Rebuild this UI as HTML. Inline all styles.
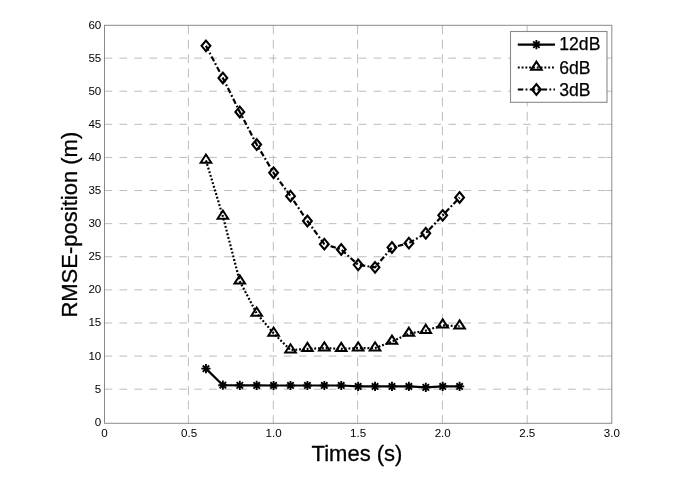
<!DOCTYPE html>
<html><head><meta charset="utf-8"><title>RMSE-position vs Times</title>
<style>
html,body{margin:0;padding:0;background:#fff;}
body{width:685px;height:497px;overflow:hidden;font-family:"Liberation Sans",sans-serif;}
svg{display:block;font-family:"Liberation Sans",sans-serif;}
</style></head><body>
<svg width="685" height="497" viewBox="0 0 685 497">
<rect width="685" height="497" fill="#fff"/>
<g stroke="#b0b0b0" stroke-width="0.85" fill="none">
<line x1="104.5" y1="389.19" x2="611.8" y2="389.19" stroke-dasharray="7.7 7.25"/>
<line x1="606.3" y1="389.19" x2="611.8" y2="389.19"/>
<line x1="104.5" y1="356.08" x2="611.8" y2="356.08" stroke-dasharray="7.7 7.25"/>
<line x1="606.3" y1="356.08" x2="611.8" y2="356.08"/>
<line x1="104.5" y1="322.97" x2="611.8" y2="322.97" stroke-dasharray="7.7 7.25"/>
<line x1="606.3" y1="322.97" x2="611.8" y2="322.97"/>
<line x1="104.5" y1="289.87" x2="611.8" y2="289.87" stroke-dasharray="7.7 7.25"/>
<line x1="606.3" y1="289.87" x2="611.8" y2="289.87"/>
<line x1="104.5" y1="256.76" x2="611.8" y2="256.76" stroke-dasharray="7.7 7.25"/>
<line x1="606.3" y1="256.76" x2="611.8" y2="256.76"/>
<line x1="104.5" y1="223.65" x2="611.8" y2="223.65" stroke-dasharray="7.7 7.25"/>
<line x1="606.3" y1="223.65" x2="611.8" y2="223.65"/>
<line x1="104.5" y1="190.54" x2="611.8" y2="190.54" stroke-dasharray="7.7 7.25"/>
<line x1="606.3" y1="190.54" x2="611.8" y2="190.54"/>
<line x1="104.5" y1="157.43" x2="611.8" y2="157.43" stroke-dasharray="7.7 7.25"/>
<line x1="606.3" y1="157.43" x2="611.8" y2="157.43"/>
<line x1="104.5" y1="124.32" x2="611.8" y2="124.32" stroke-dasharray="7.7 7.25"/>
<line x1="606.3" y1="124.32" x2="611.8" y2="124.32"/>
<line x1="104.5" y1="91.22" x2="611.8" y2="91.22" stroke-dasharray="7.7 7.25"/>
<line x1="606.3" y1="91.22" x2="611.8" y2="91.22"/>
<line x1="104.5" y1="58.11" x2="611.8" y2="58.11" stroke-dasharray="7.7 7.25"/>
<line x1="606.3" y1="58.11" x2="611.8" y2="58.11"/>
<line x1="188.40" y1="25.3" x2="188.40" y2="423.3" stroke-dasharray="8.8 5.637"/>
<line x1="273.30" y1="25.3" x2="273.30" y2="423.3" stroke-dasharray="8.8 5.637"/>
<line x1="357.60" y1="25.3" x2="357.60" y2="423.3" stroke-dasharray="8.8 5.637"/>
<line x1="442.40" y1="25.3" x2="442.40" y2="423.3" stroke-dasharray="8.8 5.637"/>
<line x1="527.20" y1="25.3" x2="527.20" y2="423.3" stroke-dasharray="8.8 5.637"/>
</g>
<rect x="104.5" y="25.3" width="507.30" height="398.00" fill="none" stroke="#8a8a8a" stroke-width="1"/>
<polyline points="205.96,368.66 222.87,385.22 239.78,385.35 256.69,385.42 273.60,385.48 290.51,385.48 307.42,385.48 324.33,385.48 341.24,385.48 358.15,386.41 375.06,386.41 391.97,386.41 408.88,386.41 425.79,387.40 442.70,386.41 459.61,386.41" fill="none" stroke="#000" stroke-width="2.2"/>
<path transform="translate(205.96,368.66)" d="M-4.6 0H4.6M0 -4.6V4.6M-3.2 -3.2L3.2 3.2M-3.2 3.2L3.2 -3.2" stroke="#000" stroke-width="1.9" fill="none"/>
<path transform="translate(222.87,385.22)" d="M-4.6 0H4.6M0 -4.6V4.6M-3.2 -3.2L3.2 3.2M-3.2 3.2L3.2 -3.2" stroke="#000" stroke-width="1.9" fill="none"/>
<path transform="translate(239.78,385.35)" d="M-4.6 0H4.6M0 -4.6V4.6M-3.2 -3.2L3.2 3.2M-3.2 3.2L3.2 -3.2" stroke="#000" stroke-width="1.9" fill="none"/>
<path transform="translate(256.69,385.42)" d="M-4.6 0H4.6M0 -4.6V4.6M-3.2 -3.2L3.2 3.2M-3.2 3.2L3.2 -3.2" stroke="#000" stroke-width="1.9" fill="none"/>
<path transform="translate(273.60,385.48)" d="M-4.6 0H4.6M0 -4.6V4.6M-3.2 -3.2L3.2 3.2M-3.2 3.2L3.2 -3.2" stroke="#000" stroke-width="1.9" fill="none"/>
<path transform="translate(290.51,385.48)" d="M-4.6 0H4.6M0 -4.6V4.6M-3.2 -3.2L3.2 3.2M-3.2 3.2L3.2 -3.2" stroke="#000" stroke-width="1.9" fill="none"/>
<path transform="translate(307.42,385.48)" d="M-4.6 0H4.6M0 -4.6V4.6M-3.2 -3.2L3.2 3.2M-3.2 3.2L3.2 -3.2" stroke="#000" stroke-width="1.9" fill="none"/>
<path transform="translate(324.33,385.48)" d="M-4.6 0H4.6M0 -4.6V4.6M-3.2 -3.2L3.2 3.2M-3.2 3.2L3.2 -3.2" stroke="#000" stroke-width="1.9" fill="none"/>
<path transform="translate(341.24,385.48)" d="M-4.6 0H4.6M0 -4.6V4.6M-3.2 -3.2L3.2 3.2M-3.2 3.2L3.2 -3.2" stroke="#000" stroke-width="1.9" fill="none"/>
<path transform="translate(358.15,386.41)" d="M-4.6 0H4.6M0 -4.6V4.6M-3.2 -3.2L3.2 3.2M-3.2 3.2L3.2 -3.2" stroke="#000" stroke-width="1.9" fill="none"/>
<path transform="translate(375.06,386.41)" d="M-4.6 0H4.6M0 -4.6V4.6M-3.2 -3.2L3.2 3.2M-3.2 3.2L3.2 -3.2" stroke="#000" stroke-width="1.9" fill="none"/>
<path transform="translate(391.97,386.41)" d="M-4.6 0H4.6M0 -4.6V4.6M-3.2 -3.2L3.2 3.2M-3.2 3.2L3.2 -3.2" stroke="#000" stroke-width="1.9" fill="none"/>
<path transform="translate(408.88,386.41)" d="M-4.6 0H4.6M0 -4.6V4.6M-3.2 -3.2L3.2 3.2M-3.2 3.2L3.2 -3.2" stroke="#000" stroke-width="1.9" fill="none"/>
<path transform="translate(425.79,387.40)" d="M-4.6 0H4.6M0 -4.6V4.6M-3.2 -3.2L3.2 3.2M-3.2 3.2L3.2 -3.2" stroke="#000" stroke-width="1.9" fill="none"/>
<path transform="translate(442.70,386.41)" d="M-4.6 0H4.6M0 -4.6V4.6M-3.2 -3.2L3.2 3.2M-3.2 3.2L3.2 -3.2" stroke="#000" stroke-width="1.9" fill="none"/>
<path transform="translate(459.61,386.41)" d="M-4.6 0H4.6M0 -4.6V4.6M-3.2 -3.2L3.2 3.2M-3.2 3.2L3.2 -3.2" stroke="#000" stroke-width="1.9" fill="none"/>
<polyline points="205.96,160.41 222.87,216.37 239.78,281.26 256.69,313.37 273.60,333.37 290.51,350.12 307.42,348.80 324.33,348.14 341.24,348.80 358.15,348.14 375.06,348.14 391.97,341.52 408.88,333.57 425.79,330.59 442.70,325.29 459.61,326.29" fill="none" stroke="#000" stroke-width="2.2" stroke-dasharray="1.9 1.9"/>
<path transform="translate(205.96,160.41)" d="M0 -5.9L5.3 2.3H-5.3Z" stroke="#000" stroke-width="2" fill="none" stroke-linejoin="miter"/>
<path transform="translate(222.87,216.37)" d="M0 -5.9L5.3 2.3H-5.3Z" stroke="#000" stroke-width="2" fill="none" stroke-linejoin="miter"/>
<path transform="translate(239.78,281.26)" d="M0 -5.9L5.3 2.3H-5.3Z" stroke="#000" stroke-width="2" fill="none" stroke-linejoin="miter"/>
<path transform="translate(256.69,313.37)" d="M0 -5.9L5.3 2.3H-5.3Z" stroke="#000" stroke-width="2" fill="none" stroke-linejoin="miter"/>
<path transform="translate(273.60,333.37)" d="M0 -5.9L5.3 2.3H-5.3Z" stroke="#000" stroke-width="2" fill="none" stroke-linejoin="miter"/>
<path transform="translate(290.51,350.12)" d="M0 -5.9L5.3 2.3H-5.3Z" stroke="#000" stroke-width="2" fill="none" stroke-linejoin="miter"/>
<path transform="translate(307.42,348.80)" d="M0 -5.9L5.3 2.3H-5.3Z" stroke="#000" stroke-width="2" fill="none" stroke-linejoin="miter"/>
<path transform="translate(324.33,348.14)" d="M0 -5.9L5.3 2.3H-5.3Z" stroke="#000" stroke-width="2" fill="none" stroke-linejoin="miter"/>
<path transform="translate(341.24,348.80)" d="M0 -5.9L5.3 2.3H-5.3Z" stroke="#000" stroke-width="2" fill="none" stroke-linejoin="miter"/>
<path transform="translate(358.15,348.14)" d="M0 -5.9L5.3 2.3H-5.3Z" stroke="#000" stroke-width="2" fill="none" stroke-linejoin="miter"/>
<path transform="translate(375.06,348.14)" d="M0 -5.9L5.3 2.3H-5.3Z" stroke="#000" stroke-width="2" fill="none" stroke-linejoin="miter"/>
<path transform="translate(391.97,341.52)" d="M0 -5.9L5.3 2.3H-5.3Z" stroke="#000" stroke-width="2" fill="none" stroke-linejoin="miter"/>
<path transform="translate(408.88,333.57)" d="M0 -5.9L5.3 2.3H-5.3Z" stroke="#000" stroke-width="2" fill="none" stroke-linejoin="miter"/>
<path transform="translate(425.79,330.59)" d="M0 -5.9L5.3 2.3H-5.3Z" stroke="#000" stroke-width="2" fill="none" stroke-linejoin="miter"/>
<path transform="translate(442.70,325.29)" d="M0 -5.9L5.3 2.3H-5.3Z" stroke="#000" stroke-width="2" fill="none" stroke-linejoin="miter"/>
<path transform="translate(459.61,326.29)" d="M0 -5.9L5.3 2.3H-5.3Z" stroke="#000" stroke-width="2" fill="none" stroke-linejoin="miter"/>
<polyline points="205.96,45.86 222.87,77.97 239.78,111.94 256.69,144.52 273.60,172.79 290.51,196.17 307.42,221.00 324.33,244.18 341.24,249.47 358.15,264.84 375.06,267.35 391.97,247.49 408.88,243.18 425.79,233.25 442.70,215.37 459.61,197.49" fill="none" stroke="#000" stroke-width="2.2" stroke-dasharray="5.5 2.3 1.8 2.3"/>
<path transform="translate(205.96,45.86)" d="M0 -5.3L4.4 0L0 5.3L-4.4 0Z" stroke="#000" stroke-width="2.1" fill="none" stroke-linejoin="miter"/>
<path transform="translate(222.87,77.97)" d="M0 -5.3L4.4 0L0 5.3L-4.4 0Z" stroke="#000" stroke-width="2.1" fill="none" stroke-linejoin="miter"/>
<path transform="translate(239.78,111.94)" d="M0 -5.3L4.4 0L0 5.3L-4.4 0Z" stroke="#000" stroke-width="2.1" fill="none" stroke-linejoin="miter"/>
<path transform="translate(256.69,144.52)" d="M0 -5.3L4.4 0L0 5.3L-4.4 0Z" stroke="#000" stroke-width="2.1" fill="none" stroke-linejoin="miter"/>
<path transform="translate(273.60,172.79)" d="M0 -5.3L4.4 0L0 5.3L-4.4 0Z" stroke="#000" stroke-width="2.1" fill="none" stroke-linejoin="miter"/>
<path transform="translate(290.51,196.17)" d="M0 -5.3L4.4 0L0 5.3L-4.4 0Z" stroke="#000" stroke-width="2.1" fill="none" stroke-linejoin="miter"/>
<path transform="translate(307.42,221.00)" d="M0 -5.3L4.4 0L0 5.3L-4.4 0Z" stroke="#000" stroke-width="2.1" fill="none" stroke-linejoin="miter"/>
<path transform="translate(324.33,244.18)" d="M0 -5.3L4.4 0L0 5.3L-4.4 0Z" stroke="#000" stroke-width="2.1" fill="none" stroke-linejoin="miter"/>
<path transform="translate(341.24,249.47)" d="M0 -5.3L4.4 0L0 5.3L-4.4 0Z" stroke="#000" stroke-width="2.1" fill="none" stroke-linejoin="miter"/>
<path transform="translate(358.15,264.84)" d="M0 -5.3L4.4 0L0 5.3L-4.4 0Z" stroke="#000" stroke-width="2.1" fill="none" stroke-linejoin="miter"/>
<path transform="translate(375.06,267.35)" d="M0 -5.3L4.4 0L0 5.3L-4.4 0Z" stroke="#000" stroke-width="2.1" fill="none" stroke-linejoin="miter"/>
<path transform="translate(391.97,247.49)" d="M0 -5.3L4.4 0L0 5.3L-4.4 0Z" stroke="#000" stroke-width="2.1" fill="none" stroke-linejoin="miter"/>
<path transform="translate(408.88,243.18)" d="M0 -5.3L4.4 0L0 5.3L-4.4 0Z" stroke="#000" stroke-width="2.1" fill="none" stroke-linejoin="miter"/>
<path transform="translate(425.79,233.25)" d="M0 -5.3L4.4 0L0 5.3L-4.4 0Z" stroke="#000" stroke-width="2.1" fill="none" stroke-linejoin="miter"/>
<path transform="translate(442.70,215.37)" d="M0 -5.3L4.4 0L0 5.3L-4.4 0Z" stroke="#000" stroke-width="2.1" fill="none" stroke-linejoin="miter"/>
<path transform="translate(459.61,197.49)" d="M0 -5.3L4.4 0L0 5.3L-4.4 0Z" stroke="#000" stroke-width="2.1" fill="none" stroke-linejoin="miter"/>
<rect x="510.5" y="31.5" width="96.5" height="70.8" fill="#fff" stroke="#8a8a8a" stroke-width="1.1"/>
<line x1="517.8" y1="44.6" x2="555" y2="44.6" stroke="#000" stroke-width="2.2"/>
<path transform="translate(536.40,44.60)" d="M-4.6 0H4.6M0 -4.6V4.6M-3.2 -3.2L3.2 3.2M-3.2 3.2L3.2 -3.2" stroke="#000" stroke-width="1.9" fill="none"/>
<text x="559.3" y="50.3" font-size="17.6" fill="#000" stroke="#000" stroke-width="0.25">12dB</text>
<line x1="517.8" y1="67.5" x2="555" y2="67.5" stroke="#000" stroke-width="2.2" stroke-dasharray="1.9 1.9"/>
<path transform="translate(536.40,67.50)" d="M0 -5.9L5.3 2.3H-5.3Z" stroke="#000" stroke-width="2" fill="none" stroke-linejoin="miter"/>
<text x="559.3" y="73.6" font-size="17.6" fill="#000" stroke="#000" stroke-width="0.25">6dB</text>
<line x1="517.8" y1="89.5" x2="555" y2="89.5" stroke="#000" stroke-width="2.2" stroke-dasharray="5.5 2.3 1.8 2.3"/>
<path transform="translate(536.40,89.50)" d="M0 -5.3L4.4 0L0 5.3L-4.4 0Z" stroke="#000" stroke-width="2.1" fill="none" stroke-linejoin="miter"/>
<text x="559.3" y="95.9" font-size="17.6" fill="#000" stroke="#000" stroke-width="0.25">3dB</text>
<g font-size="11.6" fill="#000">
<text x="101.3" y="425.80" text-anchor="end">0</text>
<text x="101.3" y="392.69" text-anchor="end">5</text>
<text x="101.3" y="359.58" text-anchor="end">10</text>
<text x="101.3" y="326.47" text-anchor="end">15</text>
<text x="101.3" y="293.37" text-anchor="end">20</text>
<text x="101.3" y="260.26" text-anchor="end">25</text>
<text x="101.3" y="227.15" text-anchor="end">30</text>
<text x="101.3" y="194.04" text-anchor="end">35</text>
<text x="101.3" y="160.93" text-anchor="end">40</text>
<text x="101.3" y="127.82" text-anchor="end">45</text>
<text x="101.3" y="94.72" text-anchor="end">50</text>
<text x="101.3" y="61.61" text-anchor="end">55</text>
<text x="101.3" y="28.50" text-anchor="end">60</text>
<text x="104.50" y="436.9" text-anchor="middle">0</text>
<text x="189.05" y="436.9" text-anchor="middle">0.5</text>
<text x="273.60" y="436.9" text-anchor="middle">1.0</text>
<text x="358.15" y="436.9" text-anchor="middle">1.5</text>
<text x="442.70" y="436.9" text-anchor="middle">2.0</text>
<text x="527.25" y="436.9" text-anchor="middle">2.5</text>
<text x="611.80" y="436.9" text-anchor="middle">3.0</text>
</g>
<text transform="translate(357,460.8) scale(1.005,1)" font-size="21.9" stroke="#000" stroke-width="0.3" text-anchor="middle" fill="#000">Times (s)</text>
<text transform="translate(77.1,224.7) rotate(-90)" font-size="22" stroke="#000" stroke-width="0.3" text-anchor="middle" fill="#000">RMSE-position (m)</text>
</svg>
</body></html>
